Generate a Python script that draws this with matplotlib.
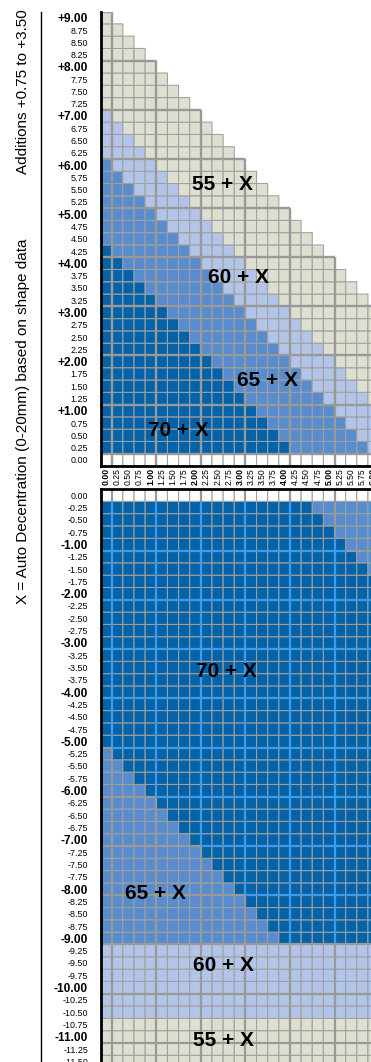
import numpy as np
import matplotlib
matplotlib.use("Agg")
import matplotlib.pyplot as plt
from matplotlib.colors import ListedColormap
from matplotlib.collections import LineCollection
from matplotlib.lines import Line2D

# --- chart values ---------------------------------------------------------
cyl_values = np.arange(0.0, 6.01, 0.25)        # columns 0.00 .. 6.00
sph_top = np.arange(9.0, -0.01, -0.25)         # rows +9.00 .. 0.00
sph_bottom = np.arange(0.0, -11.51, -0.25)     # rows 0.00 .. -11.50

zone_labels = ["70 + X", "65 + X", "60 + X", "55 + X"]
zone_colors = ["#0463a8", "#588ccc", "#b2c5e8", "#dddfd0", "#ffffff"]

# plus lenses: upper limit of sphere + cylinder for each corridor
plus_sum_limits = [4.25, 6.00, 7.00, 9.00]
# minus lenses
minus_65_sum_limit = -5.25          # sphere + cyl at or below -> 65 + X
minus_60_rows = (-10.50, -9.25)     # sphere range -> 60 + X
minus_55_max = -10.75               # sphere at or below -> 55 + X

# label anchors (cyl, sphere) for the corridor names
top_label_pos = [(1.63, 0.60), (3.63, 1.62), (2.96, 3.71), (2.60, 5.60)]
bottom_label_pos = [(2.69, -3.59), (1.10, -8.08), (2.64, -9.56), (2.64, -11.07)]

NARROW = ["Liberation Sans", "DejaVu Sans"]
BOLDF = ["Liberation Sans", "DejaVu Sans"]
GRID = "#a0a0a0"
MAJOR = "#999999"
MAJOR_BLUE = "#3d9be9"


def zone_of(s, c):
    t = s + c
    if s > 0:
        for i, lim in enumerate(plus_sum_limits):
            if t <= lim + 1e-9:
                return i
        return None
    if abs(s) < 1e-9:
        return 4
    if s <= minus_55_max + 1e-9:
        return 3
    if minus_60_rows[0] - 1e-9 <= s <= minus_60_rows[1] + 1e-9:
        return 2
    if t <= minus_65_sum_limit + 1e-9:
        return 1
    for i, lim in enumerate(plus_sum_limits):
        if t <= lim + 1e-9:
            return i
    return None


def zone_grid(rows):
    z = np.full((len(rows), len(cyl_values)), np.nan)
    for r, s in enumerate(rows):
        for k, c in enumerate(cyl_values):
            v = zone_of(s, c)
            if v is not None:
                z[r, k] = v
    return np.ma.masked_invalid(z)


def edges(v):
    v = np.sort(v)
    return np.concatenate([v - 0.125, [v[-1] + 0.125]])


W, H = 371.0, 1062.0
fig = plt.figure(figsize=(W / 100, H / 100), dpi=100)


def box(left, top, right, bottom):
    return [left / W, 1 - bottom / H, (right - left) / W, (bottom - top) / H]


ax_top = fig.add_axes(box(100.6, 11.6, 379.1, 466.0))
ax_bot = fig.add_axes(box(100.6, 489.0, 379.1, 489.0 + 47 * 12.31))
cmap = ListedColormap(zone_colors)
xe = edges(cyl_values)

for ax, rows in ((ax_top, sph_top), (ax_bot, sph_bottom)):
    order = np.argsort(rows)
    z = zone_grid(rows[order])
    ax.pcolor(xe, edges(rows), z, cmap=cmap, vmin=-0.5, vmax=4.5,
              edgecolors=GRID, linewidth=0.75)
    ax.set_xlim(xe[0], xe[-1])
    ax.set_ylim(rows.min() - 0.125, rows.max() + 0.125)
    for sp in ax.spines.values():
        sp.set_visible(False)

# major lines, top (triangle)
segs = []
for k in range(0, 7):
    segs.append([(k + 0.125, -0.125), (k + 0.125, 9 - k + 0.125)])
for k in range(0, 10):
    segs.append([(-0.125, k + 0.125), (min(9 - k + 0.125, 6.125), k + 0.125)])
ax_top.add_collection(LineCollection(segs, colors=MAJOR, linewidths=1.7, zorder=3))

# major lines, bottom: light blue between dark cells
segs, cols = [], []
for k in range(0, 6):
    x = k + 0.125
    for s in sph_bottom:
        dark = zone_of(s, k) == 0 and zone_of(s, k + 0.25) == 0
        segs.append([(x, s - 0.125), (x, s + 0.125)])
        cols.append(MAJOR_BLUE if dark else MAJOR)
for k in range(1, 12):
    y = -(k + 0.125)
    for c in cyl_values:
        dark = zone_of(-k, c) == 0 and zone_of(-k - 0.25, c) == 0
        segs.append([(c - 0.125, y), (c + 0.125, y)])
        cols.append(MAJOR_BLUE if dark else MAJOR)
ax_bot.add_collection(LineCollection(segs, colors=cols, linewidths=1.6, zorder=3))

# black frame
ax_top.spines["left"].set_visible(True)
ax_top.spines["bottom"].set_visible(True)
ax_bot.spines["left"].set_visible(True)
ax_bot.spines["top"].set_visible(True)
for ax in (ax_top, ax_bot):
    for sp in ax.spines.values():
        sp.set_linewidth(2.0)
        sp.set_color("black")
        sp.set_zorder(5)


def sph_label(s):
    if abs(s) < 1e-9:
        return "0.00"
    if abs(s - round(s)) < 1e-9 and s > 0:
        return f"+{s:.2f}"
    return f"{s:.2f}"


for ax, rows in ((ax_top, sph_top), (ax_bot, sph_bottom)):
    ax.set_yticks(rows)
    ax.set_yticklabels([sph_label(s) for s in rows])
    ax.tick_params(axis="y", length=0, pad=9)
    for s, lab in zip(rows, ax.get_yticklabels()):
        lab.set_family(NARROW)
        if abs(s) > 1e-9 and abs(s - round(s)) < 1e-9:
            lab.set_fontweight("bold")
            lab.set_fontsize(8.6)
        else:
            lab.set_fontsize(6.4)

ax_top.set_xticks(cyl_values)
ax_top.set_xticklabels([f"{c:.2f}" for c in cyl_values], rotation=90)
ax_top.tick_params(axis="x", length=0, pad=1.5)
for c, lab in zip(cyl_values, ax_top.get_xticklabels()):
    lab.set_family(NARROW)
    lab.set_fontsize(6.2)
    if abs(c - round(c)) < 1e-9:
        lab.set_fontweight("bold")
ax_bot.set_xticks([])

for (c, s), name in zip(top_label_pos, zone_labels):
    ax_top.text(c, s, name, ha="center", va="center", fontsize=15,
                fontweight="bold", family=BOLDF, zorder=6)
for (c, s), name in zip(bottom_label_pos, zone_labels):
    ax_bot.text(c, s, name, ha="center", va="center", fontsize=15,
                fontweight="bold", family=BOLDF, zorder=6)

fig.text(23 / W, 1 - 91.5 / H, "Additions +0.75 to +3.50", rotation=90,
         ha="center", va="center", fontsize=11, family=NARROW)
fig.text(23 / W, 1 - 421 / H, "X = Auto Decentration (0-20mm) based on shape data",
         rotation=90, ha="center", va="center", fontsize=11, family=NARROW)
fig.add_artist(Line2D([41 / W, 41 / W], [0, 1 - 11.6 / H], transform=fig.transFigure,
                      color="black", linewidth=1.0))

fig.savefig("out.png", dpi=100)
